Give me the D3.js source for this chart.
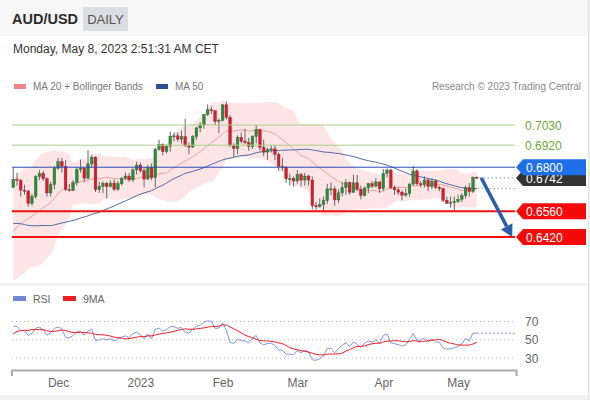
<!DOCTYPE html>
<html><head><meta charset="utf-8">
<script src="https://cdn.jsdelivr.net/npm/d3@7"></script>
<style>body{margin:0;background:#fff;font-family:"Liberation Sans",Arial,sans-serif}svg{display:block}</style>
</head><body><svg id="c" width="590" height="400"></svg>
<script>
// ---------- DATA ----------
const title = "AUD/USD", period = "DAILY";
const stamp = "Monday, May 8, 2023 2:51:31 AM CET";
const credit = "Research \u00a9 2023 Trading Central";
// closes before the first drawn bar (Sep 1 - Nov 14, 2022), used only for the indicators
const priorCloses = [0.6790,0.6800,0.6780,0.6730,0.6740,0.6760,0.6860,0.6870,0.6730,0.6750,0.6720,0.6700,0.6710,0.6685,0.6600,0.6590,0.6530,0.6450,0.6450,0.6500,0.6480,0.6400,
0.6500,0.6480,0.6460,0.6420,0.6360,0.6290,0.6270,0.6290,0.6260,0.6210,0.6300,0.6320,0.6270,0.6290,0.6380,0.6330,0.6410,0.6475,0.6430,0.6405,0.6395,
0.6410,0.6350,0.6290,0.6450,0.6480,0.6490,0.6410,0.6660,0.6700,0.6660];
const dates = ["2022-11-15","2022-11-16","2022-11-17","2022-11-18","2022-11-21","2022-11-22","2022-11-23","2022-11-24","2022-11-25","2022-11-28","2022-11-29","2022-11-30",
"2022-12-01","2022-12-02","2022-12-05","2022-12-06","2022-12-07","2022-12-08","2022-12-09","2022-12-12","2022-12-13","2022-12-14","2022-12-15","2022-12-16","2022-12-19","2022-12-20","2022-12-21","2022-12-22","2022-12-23","2022-12-26","2022-12-27","2022-12-28","2022-12-29","2022-12-30",
"2023-01-02","2023-01-03","2023-01-04","2023-01-05","2023-01-06","2023-01-09","2023-01-10","2023-01-11","2023-01-12","2023-01-13","2023-01-16","2023-01-17","2023-01-18","2023-01-19","2023-01-20","2023-01-23","2023-01-24","2023-01-25","2023-01-26","2023-01-27","2023-01-30","2023-01-31",
"2023-02-01","2023-02-02","2023-02-03","2023-02-06","2023-02-07","2023-02-08","2023-02-09","2023-02-10","2023-02-13","2023-02-14","2023-02-15","2023-02-16","2023-02-17","2023-02-20","2023-02-21","2023-02-22","2023-02-23","2023-02-24","2023-02-27","2023-02-28",
"2023-03-01","2023-03-02","2023-03-03","2023-03-06","2023-03-07","2023-03-08","2023-03-09","2023-03-10","2023-03-13","2023-03-14","2023-03-15","2023-03-16","2023-03-17","2023-03-20","2023-03-21","2023-03-22","2023-03-23","2023-03-24","2023-03-27","2023-03-28","2023-03-29","2023-03-30","2023-03-31",
"2023-04-03","2023-04-04","2023-04-05","2023-04-06","2023-04-07","2023-04-10","2023-04-11","2023-04-12","2023-04-13","2023-04-14","2023-04-17","2023-04-18","2023-04-19","2023-04-20","2023-04-21","2023-04-24","2023-04-25","2023-04-26","2023-04-27","2023-04-28",
"2023-05-01","2023-05-02","2023-05-03","2023-05-04","2023-05-05","2023-05-08"];
const opens = [0.6690,0.6734,0.6728,0.6675,0.6670,0.6603,0.6640,0.6748,0.6767,0.6737,0.6660,0.6705,
0.6795,0.6830,0.6805,0.6678,0.6673,0.6717,0.6789,0.6795,0.6740,0.6818,0.6855,0.6678,0.6696,0.6712,0.6695,0.6714,0.6680,0.6710,0.6738,0.6752,0.6731,0.6786,
0.6812,0.6781,0.6736,0.6800,0.6743,0.6898,0.6923,0.6885,0.6913,0.6969,0.6971,0.6953,0.6966,0.6918,0.6910,0.6966,0.7014,0.7030,0.7086,0.7113,0.7108,0.7050,
0.7055,0.7140,0.7072,0.6920,0.6902,0.6962,0.6942,0.6935,0.6912,0.6968,0.7005,0.6908,0.6882,0.6896,0.6900,0.6870,0.6805,0.6800,0.6737,0.6738,
0.6725,0.6760,0.6730,0.6752,0.6730,0.6590,0.6585,0.6596,0.6618,0.6682,0.6682,0.6622,0.6660,0.6688,0.6716,0.6663,0.6715,0.6680,0.6646,0.6687,0.6710,0.6697,0.6720,
0.6683,0.6766,0.6785,0.6688,0.6677,0.6664,0.6648,0.6657,0.6708,0.6780,0.6710,0.6705,0.6731,0.6695,0.6724,0.6690,0.6683,0.6620,0.6603,0.6608,
0.6614,0.6625,0.6645,0.6688,0.6668,0.6745];
const highs = [0.6798,0.6770,0.6738,0.6705,0.6678,0.6655,0.6758,0.6785,0.6780,0.6745,0.6720,0.6805,
0.6850,0.6851,0.6838,0.6710,0.6730,0.6800,0.6842,0.6800,0.6893,0.6868,0.6860,0.6720,0.6722,0.6720,0.6728,0.6735,0.6725,0.6745,0.6772,0.6770,0.6795,0.6830,
0.6825,0.6800,0.6812,0.6820,0.6905,0.6950,0.6930,0.6925,0.6994,0.6990,0.6990,0.7000,0.7063,0.6935,0.6975,0.7020,0.7045,0.7090,0.7142,0.7130,0.7110,0.7065,
0.7145,0.7158,0.7085,0.6930,0.6973,0.6990,0.7010,0.6960,0.6975,0.7030,0.7010,0.6950,0.6905,0.6920,0.6920,0.6880,0.6850,0.6805,0.6765,0.6750,
0.6785,0.6770,0.6770,0.6760,0.6750,0.6610,0.6630,0.6640,0.6710,0.6717,0.6696,0.6679,0.6720,0.6735,0.6723,0.6760,0.6758,0.6700,0.6695,0.6715,0.6726,0.6740,0.6722,
0.6790,0.6793,0.6790,0.6700,0.6690,0.6675,0.6685,0.6715,0.6806,0.6790,0.6725,0.6750,0.6740,0.6740,0.6735,0.6700,0.6690,0.6640,0.6640,0.6640,
0.6650,0.6660,0.6700,0.6715,0.6750,0.6750];
const lows = [0.6686,0.6700,0.6640,0.6650,0.6585,0.6590,0.6630,0.6730,0.6725,0.6640,0.6640,0.6680,
0.6785,0.6770,0.6670,0.6668,0.6670,0.6700,0.6770,0.6720,0.6735,0.6800,0.6665,0.6660,0.6660,0.6630,0.6690,0.6670,0.6672,0.6700,0.6730,0.6720,0.6720,0.6760,
0.6770,0.6690,0.6730,0.6730,0.6690,0.6890,0.6865,0.6875,0.6885,0.6940,0.6940,0.6930,0.6910,0.6870,0.6905,0.6950,0.6990,0.7010,0.7080,0.7090,0.7030,0.6985,
0.7050,0.7060,0.6910,0.6855,0.6870,0.6930,0.6925,0.6890,0.6900,0.6930,0.6890,0.6860,0.6840,0.6880,0.6840,0.6780,0.6780,0.6715,0.6700,0.6695,
0.6710,0.6695,0.6700,0.6700,0.6570,0.6567,0.6580,0.6565,0.6600,0.6648,0.6590,0.6605,0.6640,0.6650,0.6650,0.6660,0.6670,0.6625,0.6640,0.6660,0.6685,0.6690,0.6660,
0.6670,0.6745,0.6680,0.6650,0.6650,0.6620,0.6640,0.6640,0.6700,0.6700,0.6690,0.6690,0.6670,0.6680,0.6680,0.6670,0.6610,0.6600,0.6580,0.6565,
0.6605,0.6610,0.6630,0.6640,0.6660,0.6738];
const closes = [0.6734,0.6728,0.6675,0.6670,0.6603,0.6640,0.6748,0.6767,0.6737,0.6660,0.6705,0.6795,
0.6830,0.6805,0.6678,0.6673,0.6717,0.6789,0.6795,0.6740,0.6818,0.6855,0.6678,0.6696,0.6712,0.6695,0.6714,0.6680,0.6710,0.6738,0.6752,0.6731,0.6786,0.6812,
0.6781,0.6736,0.6800,0.6743,0.6898,0.6923,0.6885,0.6913,0.6969,0.6971,0.6953,0.6966,0.6918,0.6910,0.6966,0.7014,0.7030,0.7086,0.7113,0.7108,0.7050,0.7055,
0.7140,0.7072,0.6920,0.6902,0.6962,0.6942,0.6935,0.6912,0.6968,0.7005,0.6908,0.6882,0.6896,0.6900,0.6870,0.6805,0.6800,0.6737,0.6738,0.6725,
0.6760,0.6730,0.6752,0.6730,0.6590,0.6585,0.6596,0.6618,0.6682,0.6682,0.6622,0.6660,0.6688,0.6716,0.6663,0.6715,0.6680,0.6646,0.6687,0.6710,0.6697,0.6720,0.6683,
0.6766,0.6785,0.6688,0.6677,0.6664,0.6648,0.6657,0.6708,0.6780,0.6710,0.6705,0.6731,0.6695,0.6724,0.6690,0.6683,0.6620,0.6603,0.6608,0.6614,
0.6625,0.6645,0.6688,0.6668,0.6745,0.6742];
const resistances = [0.7030, 0.6920];
const pivot = 0.6800;
const supports = [0.6560, 0.6420];
const lastPrice = 0.6742;
const tickDates = ["2022-12-01","2023-01-02","2023-02-01","2023-03-01","2023-04-03","2023-05-01"];
const tickLabels = ["Dec","2023","Feb","Mar","Apr","May"];
const rsiLevels = [70, 50, 30];
const futureSlots = 10;  // empty bar slots to the right of the last bar

// ---------- INDICATORS (from the closes) ----------
const all = priorCloses.concat(closes);
const P = priorCloses.length;
function sma(arr, g, n){ return d3.mean(arr.slice(g-n+1, g+1)); }
function pstd(arr, g, n){ const s=arr.slice(g-n+1,g+1), m=d3.mean(s); return Math.sqrt(d3.mean(s, v=>(v-m)*(v-m))); }
const bars = dates.map((d,i)=>{
  const g=i+P, m20=sma(all,g,20), sd=pstd(all,g,20);
  return {i, date:d, o:opens[i], h:highs[i], l:lows[i], c:closes[i], ma20:m20, up:m20+2*sd, dn:m20-2*sd, ma50:sma(all,g,50)};
});
// RSI 14 (Wilder) and its 9-period MA
const rsiAll = [];
{ let ag=0, al=0;
  for(let g=1; g<all.length; g++){
    const ch=all[g]-all[g-1], gain=Math.max(ch,0), loss=Math.max(-ch,0);
    if(g<=14){ ag+=gain/14; al+=loss/14; if(g===14) rsiAll[g]=100-100/(1+ag/al); }
    else { ag=(ag*13+gain)/14; al=(al*13+loss)/14; rsiAll[g]=100-100/(1+ag/al); }
  } }
bars.forEach(b=>{ const g=b.i+P; b.rsi=rsiAll[g]; b.rsiMa=d3.mean(rsiAll.slice(g-8,g+1)); });

// ---------- LAYOUT ----------
const svg = d3.select("#c");
const font = '"Liberation Sans", Arial, sans-serif';
svg.append("rect").attr("width",590).attr("height",400).attr("fill","#f2f2f2");
svg.append("rect").attr("x",0).attr("y",0).attr("width",588).attr("height",36).attr("fill","#f7f7f7");
svg.append("rect").attr("x",0).attr("y",36).attr("width",588).attr("height",247).attr("fill","#fff");
svg.append("rect").attr("x",0).attr("y",286).attr("width",588).attr("height",109).attr("fill","#fff");

// header
svg.append("text").attr("x",12).attr("y",24).attr("font-family",font).attr("font-size",14.5).attr("font-weight","bold").attr("fill","#2b2b2b").text(title);
svg.append("rect").attr("x",83).attr("y",7).attr("width",45).attr("height",24).attr("fill","#dcdde2");
svg.append("text").attr("x",105.5).attr("y",24).attr("text-anchor","middle").attr("font-family",font).attr("font-size",13).attr("fill","#555").text(period);
svg.append("text").attr("x",13).attr("y",53).attr("font-family",font).attr("font-size",12).attr("fill","#333").text(stamp);

// legend
const leg = [{c:"#f08585",t:"MA 20 + Bollinger Bands",x:14},{c:"#2f4f95",t:"MA 50",x:156}];
leg.forEach(l=>{
  svg.append("rect").attr("x",l.x).attr("y",84).attr("width",12).attr("height",5).attr("fill",l.c);
  svg.append("text").attr("x",l.x+19).attr("y",90).attr("font-family",font).attr("font-size",10).attr("fill","#777").text(l.t);
});
svg.append("text").attr("x",581).attr("y",90).attr("text-anchor","end").attr("font-family",font).attr("font-size",10).attr("fill","#888").text(credit);

// scales
const x = d3.scaleLinear().domain([-0.5, dates.length-0.5+futureSlots]).range([11.4, 516]);
const y = d3.scaleLinear().domain([supports[1], resistances[0]]).range([237, 125]);
const yr = d3.scaleLinear().domain([30,70]).range([358,321.5]);
const bw = x(1)-x(0);

svg.append("clipPath").attr("id","pc").append("rect").attr("x",11).attr("y",95).attr("width",506).attr("height",188);
const pg = svg.append("g").attr("clip-path","url(#pc)");

// bollinger band + MAs
pg.append("path").datum(bars).attr("fill","#fde2e2").attr("fill-opacity",0.9)
  .attr("d", d3.area().x(d=>x(d.i)).y0(d=>y(d.dn)).y1(d=>y(d.up)).curve(d3.curveMonotoneX));
pg.append("path").datum(bars).attr("fill","none").attr("stroke","#f0a0a0").attr("stroke-width",1)
  .attr("d", d3.line().x(d=>x(d.i)).y(d=>y(d.ma20)).curve(d3.curveMonotoneX));

// levels
const xl0 = 12, xl1 = 515;
resistances.forEach(v=>{
  svg.append("line").attr("x1",xl0).attr("x2",xl1).attr("y1",y(v)).attr("y2",y(v)).attr("stroke","#a8d08a").attr("stroke-width",1);
  svg.append("text").attr("x",525).attr("y",y(v)+4.5).attr("font-family",font).attr("font-size",12).attr("fill","#6ea838").text(v.toFixed(4));
});
supports.forEach(v=>{
  svg.append("line").attr("x1",xl0).attr("x2",xl1).attr("y1",y(v)).attr("y2",y(v)).attr("stroke","#f01010").attr("stroke-width",2);
});
svg.append("line").attr("x1",xl0).attr("x2",xl1).attr("y1",y(pivot)).attr("y2",y(pivot)).attr("stroke","#2a4db8").attr("stroke-width",1);

pg.append("path").datum(bars).attr("fill","none").attr("stroke","#5069a8").attr("stroke-width",1)
  .attr("d", d3.line().x(d=>x(d.i)).y(d=>y(d.ma50)).curve(d3.curveMonotoneX));

// candles
const cg = pg.append("g");
cg.selectAll("line.w").data(bars).join("line").attr("class","w")
  .attr("x1",d=>x(d.i)).attr("x2",d=>x(d.i)).attr("y1",d=>y(d.h)).attr("y2",d=>y(d.l))
  .attr("stroke","#666").attr("stroke-width",1);
cg.selectAll("rect.b").data(bars).join("rect").attr("class","b")
  .attr("x",d=>x(d.i)-bw*0.36).attr("width",bw*0.72)
  .attr("y",d=>y(Math.max(d.o,d.c))).attr("height",d=>Math.max(1,Math.abs(y(d.o)-y(d.c))))
  .attr("fill",d=>d.c>=d.o?"#2f8a3a":"#cc2230")
  .attr("stroke",d=>d.c>=d.o?"#246b2c":"#a51a25").attr("stroke-width",0.4);

// dotted extensions
const last = bars[bars.length-1];
svg.append("line").attr("x1",x(last.i)+3).attr("x2",515).attr("y1",y(lastPrice)).attr("y2",y(lastPrice))
  .attr("stroke","#555").attr("stroke-dasharray","1,3");
svg.append("line").attr("x1",x(last.i)+1).attr("x2",515).attr("y1",y(last.ma50)).attr("y2",y(last.ma50))
  .attr("stroke","#888").attr("stroke-dasharray","1,3");

// trend arrow (from the last bar towards the lower target)
const a0 = [x(last.i+1.2), y(lastPrice)], a1 = [x(last.i+9.5), y(supports[1])];
const ang = Math.atan2(a1[1]-a0[1], a1[0]-a0[0]);
const hl = 12, hw = 6.5;
const base = [a1[0]-hl*Math.cos(ang), a1[1]-hl*Math.sin(ang)];
svg.append("line").attr("x1",a0[0]).attr("y1",a0[1]).attr("x2",base[0]).attr("y2",base[1])
  .attr("stroke","#2c5fa8").attr("stroke-width",3.5);
svg.append("path").attr("fill","#2c5fa8").attr("d", d3.line()([a1,
  [base[0]+hw*Math.sin(ang), base[1]-hw*Math.cos(ang)],
  [base[0]-hw*Math.sin(ang), base[1]+hw*Math.cos(ang)]]));

// price labels
function tag(v, col, txtCol, dy){
  const cy = y(v), h = 8;
  svg.append("path").attr("fill",col).attr("d", d3.line()([[516,cy],[523,cy-h],[586,cy-h],[586,cy+h],[523,cy+h]]));
  svg.append("text").attr("x",526).attr("y",cy+4.5+(dy||0)).attr("font-family",font).attr("font-size",12).attr("fill",txtCol).text(v.toFixed(4));
}
tag(lastPrice, "#333333", "#fff", 1);
tag(pivot, "#1f6fe8", "#fff");
supports.forEach(v=>tag(v, "#f50a0a", "#fff"));

// ---------- RSI PANEL ----------
const rl = [{c:"#6f86dc",t:"RSI",x:13},{c:"#ee1c24",t:"9MA",x:63}];
rl.forEach(l=>{
  svg.append("rect").attr("x",l.x).attr("y",296).attr("width",13).attr("height",5).attr("fill",l.c);
  svg.append("text").attr("x",l.x+20).attr("y",302.5).attr("font-family",font).attr("font-size",10.5).attr("fill","#666").text(l.t);
});
rsiLevels.forEach(v=>{
  svg.append("line").attr("x1",12).attr("x2",515).attr("y1",yr(v)).attr("y2",yr(v)).attr("stroke","#bbb").attr("stroke-dasharray","1,3");
  svg.append("text").attr("x",525).attr("y",yr(v)+4.5).attr("font-family",font).attr("font-size",12).attr("fill","#666").text(v);
});
svg.append("path").datum(bars).attr("fill","none").attr("stroke","#8095dd").attr("stroke-width",1)
  .attr("d", d3.line().x(d=>x(d.i)).y(d=>yr(d.rsi)));
svg.append("path").datum(bars).attr("fill","none").attr("stroke","#ee1c24").attr("stroke-width",1)
  .attr("d", d3.line().x(d=>x(d.i)).y(d=>yr(d.rsiMa)).curve(d3.curveMonotoneX));
svg.append("line").attr("x1",x(last.i)).attr("x2",515).attr("y1",yr(last.rsi)).attr("y2",yr(last.rsi))
  .attr("stroke","#8095dd").attr("stroke-dasharray","2,2");

// x axis
const ax = svg.append("g").attr("transform","translate(0,370)")
  .call(d3.axisBottom(x).tickValues(tickDates.map(t=>dates.indexOf(t))).tickFormat((d,i)=>tickLabels[i]).tickSizeInner(0).tickSizeOuter(6).tickPadding(8));
ax.select(".domain").attr("stroke","#aaa").attr("stroke-width",2);
ax.selectAll("text").attr("font-family",font).attr("font-size",12).attr("fill","#666");

// right frame line
svg.append("line").attr("x1",588.5).attr("x2",588.5).attr("y1",0).attr("y2",400).attr("stroke","#e2e2e2");
</script></body></html>
